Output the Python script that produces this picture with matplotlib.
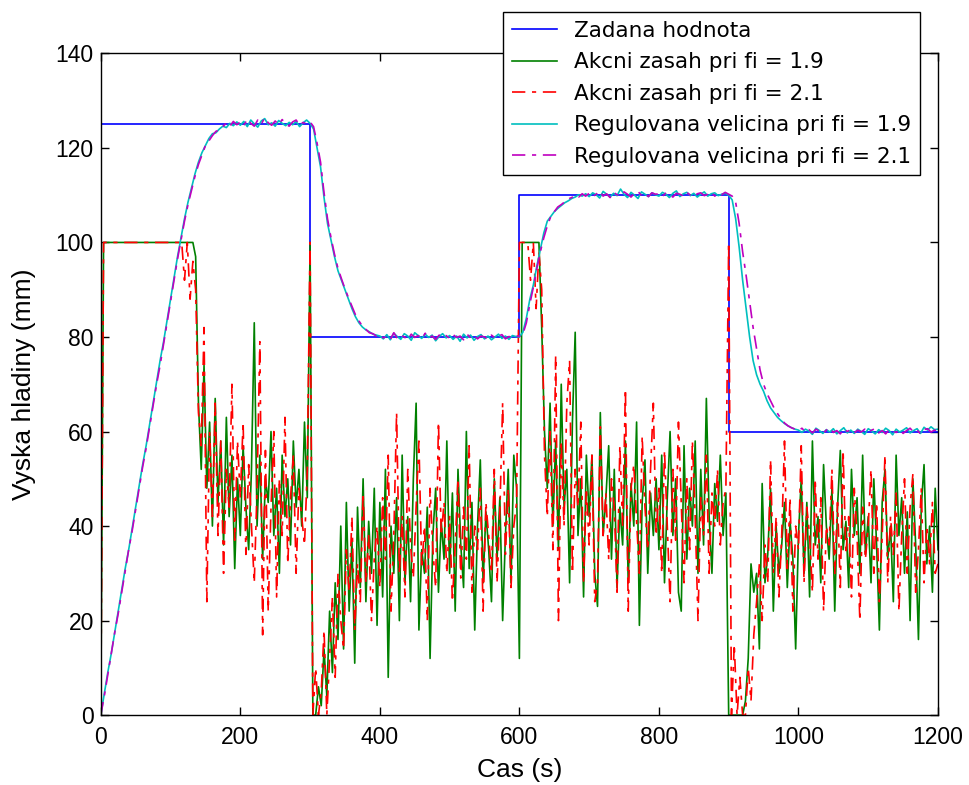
import numpy as np
import matplotlib
matplotlib.use("Agg")
import matplotlib.pyplot as plt

# time axes of the records
t_u = np.arange(0, 1201, 4)   # control signals
t_y = np.arange(0, 1201, 5)   # regulated level

# setpoint (steps)
sp_t = [0, 300, 600, 900, 1200]
sp_v = [125, 80, 110, 60, 60]

# control action, fi = 1.9
u19 = [
    0, 100, 100, 100, 100, 100, 100, 100, 100, 100, 100, 100, 100, 100, 100, 100, 100, 100, 100, 100, 100, 100, 100, 100, 100,
    100, 100, 100, 100, 100, 100, 100, 100, 100, 97, 66, 52, 74, 48, 62, 40, 67, 45, 58, 36, 63, 42, 55, 31, 50,
    38, 57, 44, 35, 52, 83, 40, 55, 33, 50, 45, 60, 38, 48, 30, 55, 42, 50, 36, 58, 44, 52, 40, 62, 46,
    100, 0, 0, 6, 2, 14, 4, 22, 9, 28, 16, 40, 14, 45, 22, 37, 11, 44, 27, 50, 24, 41, 30, 48, 19,
    45, 25, 52, 8, 40, 30, 46, 20, 55, 28, 42, 24, 50, 66, 18, 35, 30, 44, 12, 38, 48, 26, 41, 33, 58,
    30, 47, 22, 52, 36, 27, 60, 31, 45, 18, 40, 54, 28, 43, 35, 24, 50, 33, 46, 20, 38, 52, 28, 55, 48,
    12, 100, 100, 100, 100, 100, 100, 100, 82, 60, 48, 66, 40, 58, 35, 70, 44, 52, 28, 62, 81, 38, 50, 25, 55,
    42, 55, 30, 23, 64, 38, 46, 57, 33, 52, 27, 44, 36, 58, 28, 49, 40, 62, 19, 45, 54, 30, 47, 38, 50,
    35, 55, 28, 46, 60, 38, 50, 26, 22, 57, 33, 48, 40, 58, 30, 52, 36, 67, 42, 30, 49, 41, 55, 38, 47,
    0, 0, 0, 0, 0, 0, 3, 12, 32, 26, 30, 14, 49, 28, 34, 48, 22, 40, 30, 36, 45, 27, 41, 33, 14,
    38, 50, 30, 45, 25, 58, 36, 42, 28, 53, 40, 33, 48, 22, 44, 56, 35, 41, 27, 52, 38, 46, 30, 55, 34,
    42, 28, 50, 36, 18, 45, 52, 33, 40, 24, 55, 38, 46, 30, 43, 20, 50, 36, 16, 44, 53, 32, 40, 26, 48,
    35,
]

# control action, fi = 2.1
u21 = [
    0, 100, 100, 100, 100, 100, 100, 100, 100, 100, 100, 100, 100, 100, 100, 100, 100, 100, 100, 100, 100, 100, 100, 100, 100,
    100, 100, 100, 100, 100, 92, 100, 88, 96, 90, 64, 57, 82, 24, 60, 42, 66, 38, 58, 30, 52, 44, 70, 37, 58,
    46, 62, 34, 53, 40, 28, 48, 79, 17, 56, 22, 44, 60, 25, 50, 38, 63, 32, 46, 55, 30, 48, 42, 36, 52,
    100, 0, 10, 0, 5, 18, 0, 12, 25, 8, 30, 20, 14, 35, 26, 42, 18, 32, 24, 47, 28, 38, 20, 33, 40,
    27, 46, 33, 55, 22, 38, 64, 30, 42, 25, 52, 36, 29, 44, 58, 31, 40, 20, 48, 35, 27, 62, 38, 45, 30,
    42, 24, 36, 50, 29, 44, 33, 57, 26, 40, 35, 48, 22, 45, 38, 30, 52, 28, 43, 66, 34, 48, 27, 40, 45,
    100, 100, 100, 100, 92, 100, 86, 98, 90, 55, 42, 60, 35, 76, 20, 58, 40, 66, 75, 30, 52, 44, 62, 28, 48,
    36, 55, 24, 28, 61, 38, 47, 33, 50, 44, 26, 57, 40, 69, 22, 48, 53, 41, 30, 59, 44, 35, 52, 66, 38,
    48, 30, 56, 40, 24, 52, 37, 62, 45, 28, 50, 35, 58, 42, 20, 46, 38, 55, 30, 47, 40, 52, 36, 45, 48,
    100, 0, 15, 0, 8, 0, 0, 10, 3, 17, 24, 32, 20, 36, 28, 54, 30, 42, 25, 38, 58, 31, 46, 22, 40,
    35, 57, 28, 44, 38, 26, 50, 33, 46, 22, 40, 36, 52, 30, 45, 27, 56, 34, 42, 25, 48, 38, 20, 44, 33,
    40, 52, 30, 45, 24, 38, 55, 28, 42, 34, 47, 22, 38, 50, 30, 44, 51, 26, 35, 48, 28, 40, 32, 45, 30,
    32,
]

# regulated level, fi = 1.9
y19 = [
    0, 4.5, 9, 13, 17.5, 22, 26.5, 31, 35, 39.5, 44, 48.5, 53, 57, 61.5, 66, 70.5, 75, 79, 83.5,
    88, 92.5, 97, 101, 105, 108.5, 111.5, 114.5, 117, 119, 120.5, 122, 123, 123.2, 124, 124.6, 124.3, 125.2, 124.7, 125.5,
    124.8, 125.6, 124.5, 125.9, 125.1, 124.4, 125.7, 126.2, 124.9, 125.3, 124.6, 125.8, 125.2, 124.7, 125.4, 124.9, 125.6, 124.5, 125.3, 125.9,
    125.2, 124, 120, 116, 109.5, 104, 100.5, 97, 94, 92, 90, 88, 86, 84.3, 83, 82.1, 81.5, 81.1, 80.6, 80.4,
    80.2, 79.6, 80.5, 79.4, 80.8, 80.1, 79.5, 80.7, 80.2, 79.3, 80.9, 80.3, 79.7, 80.6, 79.9, 80.4, 79.2, 80.1, 80.7, 79.8,
    80.3, 79.5, 80.2, 79.1, 80.6, 79.8, 80.4, 79.3, 80.1, 80.5, 79.6, 80.2, 79.4, 80, 80.6, 79.7, 80.2, 79.5, 80.3, 80.1,
    80, 81, 84, 88, 91, 95, 98.5, 102, 104.5, 105.5, 106.5, 107.2, 107.8, 108.4, 108.8, 109.3, 109.6, 110.1, 109.8, 110.3,
    109.7, 110.5, 110.1, 109.4, 110.8, 110.2, 109.6, 110.4, 109.9, 111.3, 110.2, 109.5, 110.6, 110, 109.3, 110.7, 110.2, 109.7, 110.5, 110.1,
    109.8, 110.6, 110.2, 109.5, 110.4, 110.9, 109.7, 110.3, 110.6, 109.9, 110.4, 109.6, 110.2, 110.7, 109.8, 110.3, 110.5, 109.9, 110.2, 110.4,
    110, 109, 105, 99, 92, 86, 80, 75, 72, 70, 68.5, 66.5, 65, 64, 63, 62.3, 61.7, 61.2, 60.8, 60.5,
    60.3, 59.8, 60.5, 60.1, 59.4, 60.7, 60.2, 59.6, 60.4, 59.9, 60.6, 59.5, 60.2, 60.8, 59.7, 60.3, 59.6, 60.5, 60, 59.4,
    60.6, 60.1, 59.5, 60.4, 59.8, 60.7, 60.2, 59.3, 60.5, 59.9, 60.3, 60.8, 59.7, 60.2, 60.6, 59.6, 60.9, 60.3, 61, 60.4,
    60.5,
]

# regulated level, fi = 2.1
y21 = [
    0, 4, 8.5, 13, 17.5, 21.5, 26, 30.5, 35, 39, 43.5, 48, 52.5, 56.5, 61, 65.5, 70, 74, 78.5, 83,
    87.5, 92, 96.5, 100.5, 104.5, 108, 111, 114, 116.5, 118.5, 120.5, 121.5, 122.6, 123.5, 123.8, 124.5, 125.3, 124.6, 125.6, 124.9,
    125.5, 124.7, 126.1, 125.2, 124.6, 125.9, 125, 126.4, 125.3, 124.8, 125.7, 124.9, 126, 125.1, 124.6, 125.5, 125.9, 124.8, 125.4, 125.1,
    125.5, 124.5, 121, 117, 110.5, 105, 101, 97.5, 94.5, 92.3, 90.2, 88.3, 86.5, 84.7, 83.4, 82.3, 81.6, 80.9, 80.7, 80.2,
    80.5, 79.8, 80.2, 79.5, 80.9, 79.7, 80.4, 80, 79.4, 80.6, 79.9, 80.3, 79.6, 80.8, 79.8, 80.2, 79.5, 80.4, 79.9, 80.3,
    79.7, 80.5, 79.9, 80.2, 79.4, 80.6, 79.8, 80.3, 79.6, 80.2, 80, 79.5, 80.4, 79.8, 80.2, 80.5, 79.6, 80.1, 79.9, 80.3,
    80.1, 80.6, 83, 87, 90.5, 94.5, 98, 101, 103.5, 105.5, 106.5, 107.5, 108, 108.6, 109.2, 109.5, 110, 109.6, 110.3, 109.8,
    110.4, 109.7, 110.2, 110.9, 109.8, 110.3, 109.5, 110.6, 110.1, 109.8, 110.7, 110.2, 109.6, 110.4, 110.8, 109.9, 110.3, 109.7, 110.5, 110.2,
    110.3, 109.7, 110.5, 110.1, 109.6, 110.4, 110.2, 109.8, 110.6, 110, 109.7, 110.3, 110.5, 109.9, 110.2, 110.7, 109.8, 110.4, 110.1, 110.6,
    110.2, 109.8, 108.5, 104, 98, 93, 87.5, 82, 77.5, 73, 70, 68, 66.5, 65, 63.8, 62.7, 61.8, 61.2, 60.8, 60.5,
    60.2, 60.7, 59.9, 60.4, 59.7, 60.5, 60.1, 59.6, 60.3, 60.8, 59.8, 60.2, 59.5, 60.6, 60, 60.4, 59.7, 60.3, 59.9, 60.5,
    59.8, 60.3, 60.6, 59.7, 60.2, 59.5, 60.4, 60.1, 59.8, 60.5, 59.6, 60.2, 60.7, 59.9, 60.3, 59.5, 60.4, 60.6, 59.9, 60.3,
    60.2,
]

labels = ["Zadana hodnota", "Akcni zasah pri fi = 1.9", "Akcni zasah pri fi = 2.1",
          "Regulovana velicina pri fi = 1.9", "Regulovana velicina pri fi = 2.1"]

plt.rcParams["font.family"] = ["Liberation Sans", "DejaVu Sans"]

fig = plt.figure(figsize=(9.69, 7.85), dpi=100)
ax = fig.add_axes([0.104, 0.089, 0.864, 0.843])

lw = 1.2
dash = (8, 4, 2.5, 4)
ax.plot(sp_t, sp_v, color="#0000ff", lw=lw, drawstyle="steps-post", label=labels[0])
ax.plot(t_u, u19, color="#008000", lw=lw, label=labels[1])
ax.plot(t_u, u21, color="#ff0000", lw=lw, ls=(0, dash), label=labels[2])
ax.plot(t_y, y19, color="#00bfbf", lw=lw, label=labels[3])
ax.plot(t_y, y21, color="#bf00bf", lw=lw, ls=(0, dash), label=labels[4])

ax.set_xlim(0, 1200)
ax.set_ylim(0, 140)
ax.set_xticks(np.arange(0, 1201, 200))
ax.set_yticks(np.arange(0, 141, 20))
ax.tick_params(direction="in", top=True, right=True, length=6, width=1,
               labelsize=16.5, pad=5)
ax.tick_params(axis="x", pad=8)
for s in ax.spines.values():
    s.set_linewidth(1)
ax.set_xlabel("Cas (s)", fontsize=19, labelpad=6)
ax.set_ylabel("Vyska hladiny (mm)", fontsize=19, labelpad=14)

leg = ax.legend(loc="upper right", bbox_to_anchor=(0.9785, 1.062), fancybox=False,
                edgecolor="black", framealpha=1, borderaxespad=0,
                prop={"family": "DejaVu Sans", "size": 15.5},
                handlelength=2.1, handletextpad=0.8, labelspacing=0.53, borderpad=0.4)
leg.get_frame().set_linewidth(1)

fig.savefig("out.png", dpi=100)
